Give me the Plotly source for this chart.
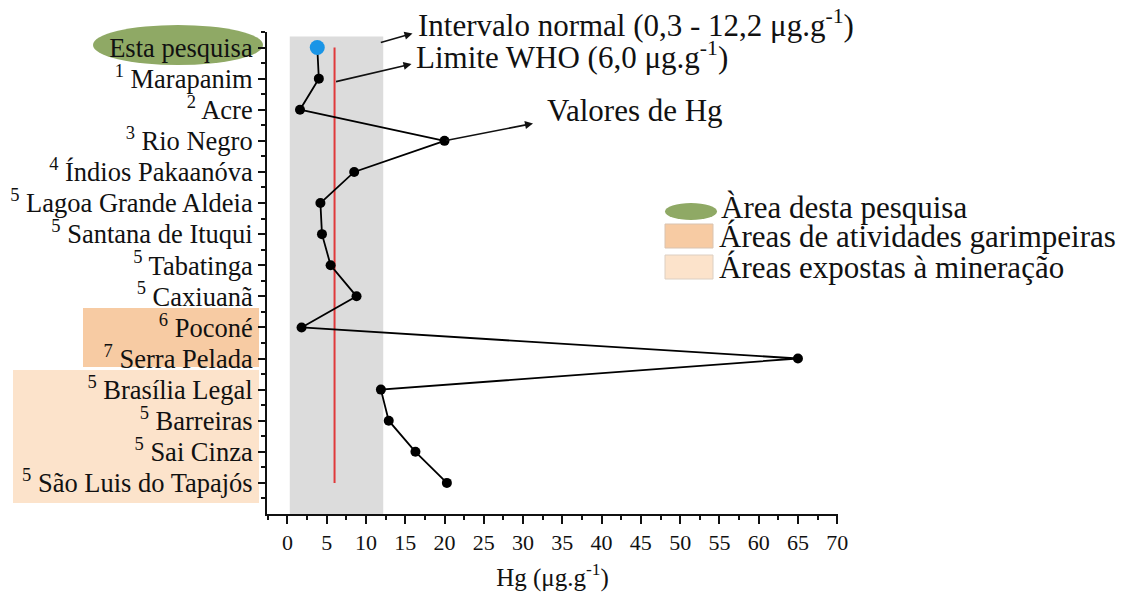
import plotly.graph_objects as go

# ---------------- data ----------------
sites = ["Esta pesquisa", "Marapanim", "Acre", "Rio Negro", "Índios Pakaanóva",
         "Lagoa Grande Aldeia", "Santana de Ituqui", "Tabatinga", "Caxiuanã",
         "Poconé", "Serra Pelada", "Brasília Legal", "Barreiras", "Sai Cinza",
         "São Luis do Tapajós"]
refs = ["", "1", "2", "3", "4", "5", "5", "5", "5", "6", "7", "5", "5", "5", "5"]
hg = [3.8, 4.0, 1.6, 20.0, 8.5, 4.2, 4.4, 5.5, 8.8, 1.8, 65.0, 11.9, 12.9, 16.3, 20.3]
normal_range = [0.3, 12.2]
who_limit = 6.0
x_ticks = list(range(0, 71, 5))

# ---------------- geometry ----------------
W, H = 1127, 597
L, R, T, B = 267, 289, 32, 83
PW, PH = W - L - R, H - T - B
XR = [-2.6, 70.1]
YR = [15, -0.5]
FONT = "Liberation Serif"

def pxx(p):  # pixel -> paper x
    return (p - L) / PW

def pxy(p):  # pixel -> paper y
    return (H - B - p) / PH

def dx(p):  # pixel -> data x
    return XR[0] + (p - L) * (XR[1] - XR[0]) / PW

def dy(p):  # pixel -> data y
    return YR[1] + (p - T) * (YR[0] - YR[1]) / PH

idx = list(range(len(sites)))
ticktext = [(f"<sup>{r}</sup> {s}" if r else s) for r, s in zip(refs, sites)]

fig = go.Figure()

# WHO limit line
fig.add_trace(go.Scatter(x=[who_limit, who_limit], y=[idx[0], idx[-1]], mode="lines",
                         line=dict(color="#e0393b", width=2), showlegend=False,
                         hoverinfo="skip"))
# Hg values
fig.add_trace(go.Scatter(x=hg, y=idx, mode="lines+markers",
                         line=dict(color="#000000", width=1.8),
                         marker=dict(size=[15] + [10] * (len(hg) - 1), opacity=1,
                                     color=["#1a95e6"] + ["#000000"] * (len(hg) - 1),
                                     line=dict(width=0)),
                         showlegend=False))

shapes = [
    dict(type="rect", xref="x", yref="y", x0=normal_range[0], x1=normal_range[1],
         y0=YR[0], y1=dy(36.5), fillcolor="#dcdcdc", line=dict(width=0), layer="below"),
    dict(type="circle", xref="paper", yref="paper", x0=pxx(93), x1=pxx(263),
         y0=pxy(65), y1=pxy(25), fillcolor="#8fa965", line=dict(width=0), layer="below"),
    dict(type="rect", xref="paper", yref="paper", x0=pxx(83), x1=pxx(259),
         y0=pxy(367), y1=pxy(308), fillcolor="#f7cba3", line=dict(width=0), layer="below"),
    dict(type="rect", xref="paper", yref="paper", x0=pxx(13), x1=pxx(259),
         y0=pxy(503), y1=pxy(370), fillcolor="#fce3cb", line=dict(width=0), layer="below"),
    dict(type="circle", xref="paper", yref="paper", x0=pxx(665), x1=pxx(717),
         y0=pxy(220), y1=pxy(203), fillcolor="#8fa965", line=dict(width=0)),
    dict(type="rect", xref="paper", yref="paper", x0=pxx(665), x1=pxx(713),
         y0=pxy(248), y1=pxy(224), fillcolor="#f7cba3", line=dict(color="#d9c3b0", width=1)),
    dict(type="rect", xref="paper", yref="paper", x0=pxx(665), x1=pxx(713),
         y0=pxy(279), y1=pxy(255), fillcolor="#fce3cb", line=dict(color="#dccfc2", width=1)),
]

txt = dict(family=FONT, size=31, color="#111111")
annotations = [
    dict(text="Intervalo normal (0,3 - 12,2 μg.g<sup>-1</sup>)", xref="paper", yref="paper",
         x=pxx(416), y=pxy(23), xanchor="left", yanchor="middle", showarrow=False, font=txt),
    dict(text="Limite WHO (6,0 μg.g<sup>-1</sup>)", xref="paper", yref="paper",
         x=pxx(414), y=pxy(55), xanchor="left", yanchor="middle", showarrow=False, font=txt),
    dict(text="Valores de Hg", xref="paper", yref="paper",
         x=pxx(545), y=pxy(111), xanchor="left", yanchor="middle", showarrow=False, font=txt),
    dict(text="Àrea desta pesquisa", xref="paper", yref="paper",
         x=pxx(719), y=pxy(207), xanchor="left", yanchor="middle", showarrow=False, font=txt),
    dict(text="Áreas de atividades garimpeiras", xref="paper", yref="paper",
         x=pxx(717), y=pxy(236), xanchor="left", yanchor="middle", showarrow=False, font=txt),
    dict(text="Áreas expostas à mineração", xref="paper", yref="paper",
         x=pxx(717), y=pxy(267), xanchor="left", yanchor="middle", showarrow=False, font=txt),
]
arrow = dict(text="", showarrow=True, arrowhead=2, arrowsize=1.0, arrowwidth=1.6,
             arrowcolor="#111111", standoff=0, startstandoff=0,
             xref="x", yref="y", axref="x", ayref="y")
annotations += [
    dict(arrow, x=dx(412.5), y=dy(33.5), ax=normal_range[1] - 0.5, ay=dy(43)),
    dict(arrow, x=dx(411.5), y=dy(64), ax=who_limit, ay=dy(82)),
    dict(arrow, x=dx(533), y=dy(123.5), ax=hg[3], ay=idx[3]),
]

fig.update_layout(
    width=W, height=H, autosize=False,
    margin=dict(l=L, r=R, t=T, b=B, pad=0),
    plot_bgcolor="white", paper_bgcolor="white",
    font=dict(family=FONT, color="#111111"),
    shapes=shapes, annotations=annotations, showlegend=False,
    xaxis=dict(range=XR, tickmode="linear", tick0=0, dtick=5,
               ticks="outside", ticklen=8, tickwidth=1.6, tickcolor="#111111",
               minor=dict(tick0=0, dtick=2.5, ticks="outside", ticklen=4,
                          tickwidth=1.6, tickcolor="#111111"),
               showline=True, linecolor="#111111", linewidth=2,
               showgrid=False, zeroline=False, automargin=False,
               tickfont=dict(family=FONT, size=22, color="#111111"),
               title=dict(text="Hg (μg.g<sup>-1</sup>)", standoff=14,
                          font=dict(family=FONT, size=25, color="#111111"))),
    yaxis=dict(range=YR, tickmode="array", tickvals=idx, ticktext=ticktext,
               ticks="outside", ticklen=7, tickwidth=1.6, tickcolor="#111111",
               minor=dict(tick0=0.5, dtick=1, ticks="outside", ticklen=4,
                          tickwidth=1.6, tickcolor="#111111"),
               showline=True, linecolor="#111111", linewidth=2,
               showgrid=False, zeroline=False, automargin=False,
               tickfont=dict(family=FONT, size=26.5, color="#111111")),
)

fig.write_html("out.html", config={"displayModeBar": False},
               post_script="document.body.style.margin='0';document.body.style.overflow='hidden';")
